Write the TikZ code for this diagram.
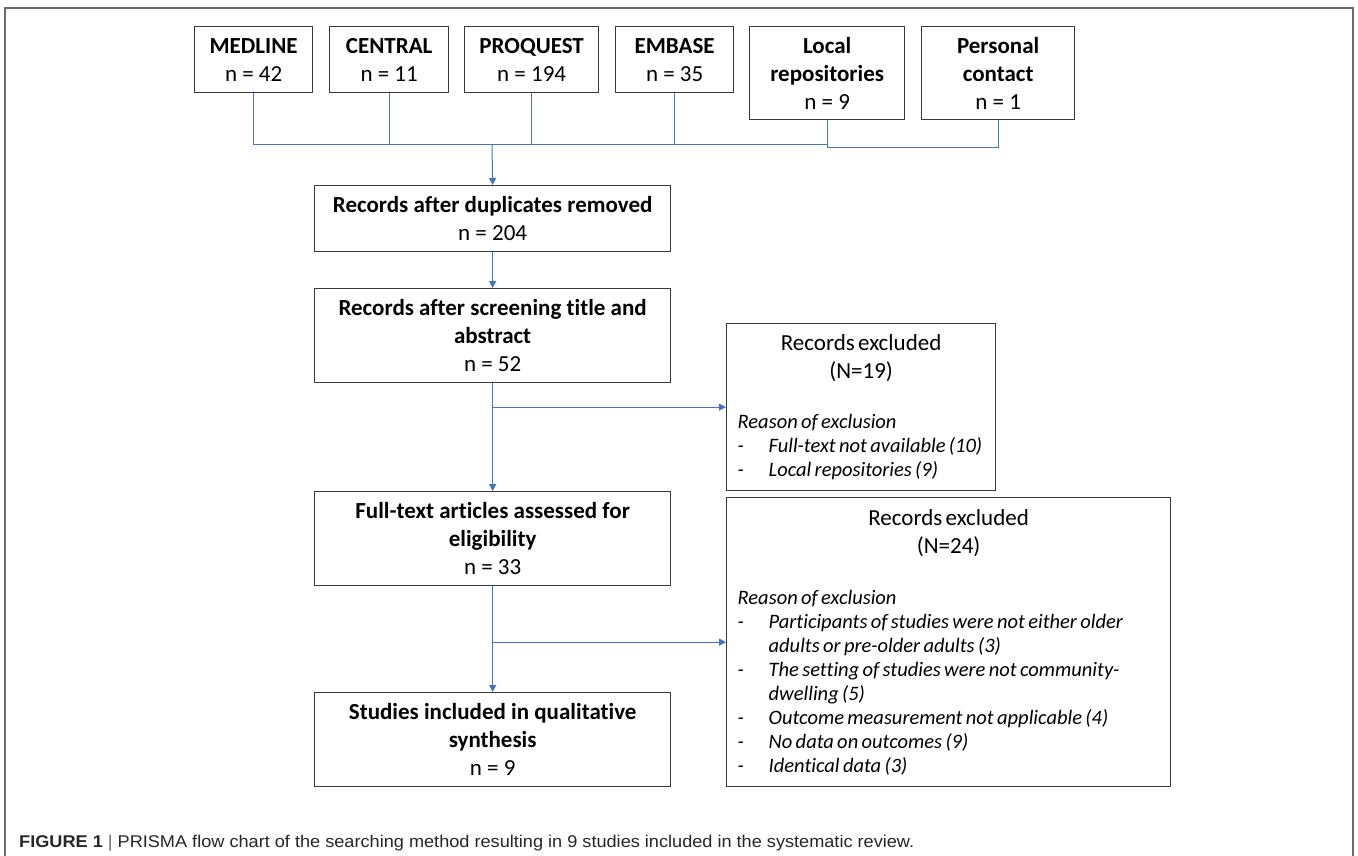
\documentclass[tikz,border=0pt]{standalone}
\usepackage{fontspec}
\usepackage{graphicx}
\setmainfont{Carlito}[Ligatures=NoCommon]
\newfontfamily\capfont{Liberation Sans}
\usetikzlibrary{arrows.meta}
\definecolor{connblue}{HTML}{4472C4}
\definecolor{boxline}{HTML}{3A3A3A}
\definecolor{frameline}{HTML}{6B6B6B}
\begin{document}
\begin{tikzpicture}[x=1pt,y=-1pt,
  box/.style={draw=boxline, line width=1.3pt, inner sep=0pt, align=center,
    anchor=north west, font=\fontsize{23}{28}\selectfont},
  exbox/.style={draw=boxline, line width=1.3pt, inner xsep=11pt, inner ysep=0pt,
    anchor=north west},
  conn/.style={draw=connblue, line width=1pt},
  arr/.style={conn, -{Triangle[length=7pt,width=7pt]}},
]
\useasboundingbox (0,0) rectangle (1358,856);
\draw[frameline, line width=1.2pt] (5,8) rectangle (1353,880);

% source boxes
\node[box, minimum width=118, minimum height=66] (med) at (194,26) {\textbf{MEDLINE}\\n = 42};
\node[box, minimum width=119, minimum height=66] (cen) at (329,26) {\textbf{CENTRAL}\\n = 11};
\node[box, minimum width=134, minimum height=66] (pro) at (464,26) {\textbf{PROQUEST}\\n = 194};
\node[box, minimum width=118, minimum height=66] (emb) at (615,26) {\textbf{EMBASE}\\n = 35};
\node[box, minimum width=155, minimum height=93] (loc) at (749,26) {\textbf{Local}\\\textbf{repositories}\\n = 9};
\node[box, minimum width=153, minimum height=93] (per) at (921,26) {\textbf{Personal}\\\textbf{contact}\\n = 1};

% main column
\node[box, minimum width=356, minimum height=66] (dup) at (314,185) {\textbf{Records after duplicates removed}\\n = 204};
\node[box, minimum width=356, minimum height=94] (scr) at (314,288) {\textbf{Records after screening title and}\\\textbf{abstract}\\n = 52};
\node[box, minimum width=356, minimum height=94] (ft) at (314,491) {\textbf{Full-text articles assessed for}\\\textbf{eligibility}\\n = 33};
\node[box, minimum width=356, minimum height=94] (stu) at (314,692) {\textbf{Studies included in qualitative}\\\textbf{synthesis}\\n = 9};

% exclusion boxes
\node[exbox, minimum width=269, minimum height=167, text width=247pt] (ex1) at (726,323) {%
  {\fontsize{23}{28}\selectfont\centering Records excluded\\(N=19)\par}%
  \vspace{26pt}%
  {\fontsize{20.5}{24}\selectfont\itshape\raggedright
  Reason of exclusion\par
  \hangindent=31pt\hangafter=1\makebox[31pt][l]{-}Full-text not available (10)\par
  \hangindent=31pt\hangafter=1\makebox[31pt][l]{-}Local repositories (9)\par}%
};
\node[exbox, minimum width=444, minimum height=289, text width=422pt] (ex2) at (726,497) {%
  {\fontsize{23}{28}\selectfont\centering Records excluded\\(N=24)\par}%
  \vspace{27pt}%
  {\fontsize{20.5}{24}\selectfont\itshape\raggedright
  Reason of exclusion\par
  \hangindent=31pt\hangafter=1\makebox[31pt][l]{-}Participants of studies were not either older\newline adults or pre-older adults (3)\par
  \hangindent=31pt\hangafter=1\makebox[31pt][l]{-}The setting of studies were not community-\newline dwelling (5)\par
  \hangindent=31pt\hangafter=1\makebox[31pt][l]{-}Outcome measurement not applicable (4)\par
  \hangindent=31pt\hangafter=1\makebox[31pt][l]{-}No data on outcomes (9)\par
  \hangindent=31pt\hangafter=1\makebox[31pt][l]{-}Identical data (3)\par}%
};

% connectors from sources
\coordinate (junc) at (492,145);
\draw[conn] (med.south) -- (med.south |- junc) -- (loc.south |- junc);
\draw[conn] (cen.south) -- (cen.south |- junc);
\draw[conn] (pro.south) -- (pro.south |- junc);
\draw[conn] (emb.south) -- (emb.south |- junc);
\draw[conn] (loc.south) -- ++(0,27) -| (per.south);
\draw[arr] (junc) -- (dup.north);

% main flow
\draw[arr] (dup.south) -- (scr.north);
\draw[arr] (scr.south) -- (ft.north);
\draw[arr] (scr.south |- ex1.west) -- (ex1.west);
\draw[arr] (ft.south) -- (stu.north);
\draw[arr] (ft.south |- ex2.west) -- (ex2.west);

% caption
\node[anchor=base west, inner sep=0pt, font=\capfont\fontsize{17}{20}\selectfont, text=black!85] (cap) at (19,847)
  {\resizebox{895pt}{\height}{\textbf{FIGURE 1} {\color{black!60}|} PRISMA flow chart of the searching method resulting in 9 studies included in the systematic review.}};
\end{tikzpicture}
\end{document}
